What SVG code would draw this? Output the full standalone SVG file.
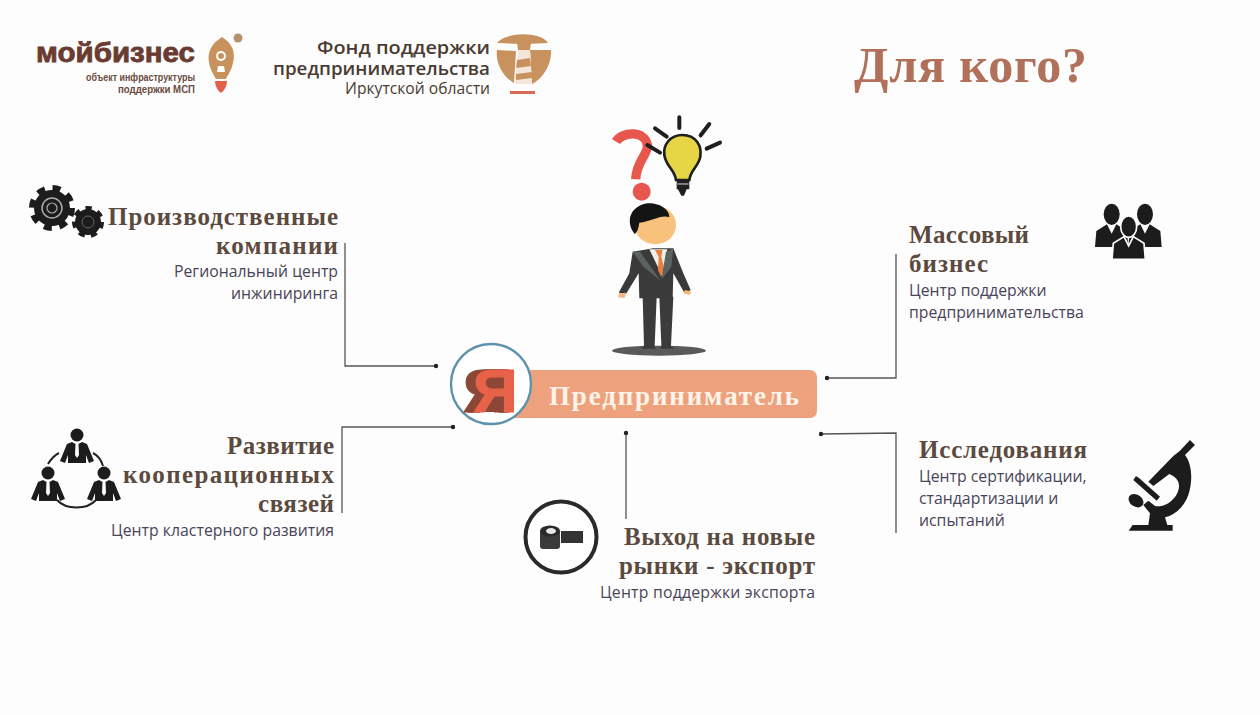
<svg xmlns="http://www.w3.org/2000/svg" width="1260" height="715" viewBox="0 0 1260 715">
<style>
.h{font-family:"Liberation Serif","DejaVu Serif",serif;font-weight:700;font-size:25px;fill:#5c4a3e}
.s{font-family:"Open Sans","Liberation Sans",sans-serif;font-size:15.8px;fill:#4a4458}
.l{fill:none;stroke:#555;stroke-width:1.3}
.d{fill:#222}
.e{text-anchor:end}
.k{fill:#1c1c1c}
.f{font-family:"Open Sans","Liberation Sans",sans-serif;fill:#4a3b32;text-anchor:end}
</style>
<defs>
<g id="person"><circle cx="0" cy="0" r="6.5" class="k"/><path class="k" d="M-5 7L-10 9L-17 26L-12 28L-9 20V28H9V20L12 28L17 26L10 9L5 7L1.5 9L2 20L0 23L-2 20L-1.5 9Z"/></g>
<g id="bust"><ellipse cx="0" cy="0" rx="24" ry="32"/><path d="M-14 30L-46 50L-50 98H50L46 50L14 30L0 58Z"/></g>
</defs>
<rect width="1260" height="715" fill="#fdfdfd"/>

<g id="connectors">
<path class="l" d="M345 243V366H436"/><circle class="d" cx="436" cy="366" r="2.2"/>
<path class="l" d="M896 254V378H827"/><circle class="d" cx="827" cy="378" r="2.2"/>
<path class="l" d="M342 513V427H453"/><circle class="d" cx="453" cy="427" r="2.2"/>
<path class="l" d="M626 433V519"/><circle class="d" cx="626" cy="433" r="2.2"/>
<path class="l" d="M821 434L896 433V533"/><circle class="d" cx="821" cy="434" r="2.2"/>
</g>

<g id="logo-mybusiness">
<text x="36" y="62" font-family="Liberation Sans,sans-serif" font-weight="700" font-size="27" fill="#6a3b30" stroke="#6a3b30" stroke-width=".8" textLength="159" lengthAdjust="spacingAndGlyphs">мойбизнес</text>
<text x="195" y="81" class="e" font-family="Liberation Sans,sans-serif" font-size="11.5" font-weight="700" fill="#6a4a40" textLength="109" lengthAdjust="spacingAndGlyphs">объект инфраструктуры</text>
<text x="195" y="93" class="e" font-family="Liberation Sans,sans-serif" font-size="11.5" font-weight="700" fill="#6a4a40" textLength="77" lengthAdjust="spacingAndGlyphs">поддержки МСП</text>
<path d="M222 37C232 43 236 52 233 63C231 72 227 76 226 79L216 79C214 75 210 70 209 62C207 52 212 43 222 37Z" fill="#c8925f"/>
<circle cx="221" cy="56" r="5" fill="#fff"/><circle cx="221" cy="56" r="3" fill="#c8925f"/>
<path d="M218 66L224 66L225 72L217 72Z" fill="#fff"/>
<path d="M215 81L227 81C227 86 224 91 221 93C218 91 215 86 215 81Z" fill="#e2604a"/>
<circle cx="238" cy="38" r="4.5" fill="#b5926e"/>
</g>

<g id="logo-fund">
<text class="f" x="490" y="54" font-weight="600" font-size="18.5" textLength="173" lengthAdjust="spacingAndGlyphs">Фонд поддержки</text>
<text class="f" x="490" y="75" font-weight="600" font-size="18.5" textLength="217" lengthAdjust="spacingAndGlyphs">предпринимательства</text>
<text class="f" x="490" y="94" font-size="15.5" textLength="145" lengthAdjust="spacingAndGlyphs">Иркутской области</text>
<path d="M497 43C505 32 540 31 548 43L527 44L520 44Z" fill="#c8925f"/>
<path d="M497 50L516 51L514 83C505 78 495 65 497 50Z" fill="#c8925f"/>
<path d="M530 50L551 50C552 65 542 79 532 84Z" fill="#c8925f"/>
<path d="M517 42L524 37L531 42L530 50L518 50Z" fill="#c8925f"/>
<path d="M518 50H530L532 84H515Z" fill="#f4e6d8"/>
<path d="M517 60L530 58L531 66L516 68ZM516 74L532 72L532 78L516 80Z" fill="#c8925f"/>
<rect x="510" y="91" width="25" height="3" fill="#d96a55"/>
</g>

<text id="title" x="854" y="82" font-family="Liberation Serif,serif" font-weight="700" font-size="50" fill="#b0705a" textLength="233">Для кого?</text>

<g id="man" transform="translate(590 110) scale(.3333)">
<ellipse cx="207" cy="722" rx="141" ry="15" fill="#5a5a58"/>
<path d="M158 560H200L194 708L196 716H155L162 706Z" fill="#3b3b3b"/>
<path d="M208 560H250L243 708L255 716H212L214 706Z" fill="#3b3b3b"/>
<path d="M128 425L190 415H225L250 415L280 490L302 540L284 550L250 490L248 565H148L146 490L108 552L86 548L118 490Z" fill="#3a3a3a"/>
<path d="M88 550L108 548L104 564L84 562ZM285 540L305 545L298 555L280 550Z" fill="#f3b77a"/>
<path d="M178 418H232L218 500Z" fill="#f1efe9"/>
<path d="M195 420H217L214 440L224 480L213 500L204 480L206 440Z" fill="#e8813e"/>
<path d="M128 425L150 425L212 512L160 470Z M250 415L228 425L214 510L244 470Z" fill="#5b6262"/>
<ellipse cx="196" cy="345" rx="62" ry="58" fill="#f8c27c"/>
<path d="M134 372C108 340 115 290 172 280C210 278 240 300 238 322C215 312 185 335 148 338C146 350 144 364 134 372Z" fill="#141414"/>
<path d="M78 95C95 65 165 60 172 105C175 135 140 150 137 208" fill="none" stroke="#e8574e" stroke-width="28"/>
<circle cx="155" cy="245" r="27" fill="#e8574e"/>
<path d="M277 75C318 75 336 108 331 140C326 170 302 178 298 210H258C254 178 228 170 223 135C219 105 240 75 277 75Z" fill="#e6d545" stroke="#1f1f1f" stroke-width="8"/>
<path d="M260 210H298V238H290L282 257H274L264 238H260Z" fill="#1f1f1f"/>
<path d="M262 222H296" stroke="#ddd" stroke-width="3"/>
<path d="M268 22V54M358 42L332 76M390 98L350 116M195 55L230 80M172 105L210 128" stroke="#1f1f1f" stroke-width="12" stroke-linecap="round" fill="none"/>
</g>

<g id="center">
<rect x="490" y="370" width="327" height="48" rx="7" fill="#eda27d"/>
<circle cx="491" cy="384" r="40" fill="#fff" stroke="#5f93ad" stroke-width="2.4"/>
<rect x="484" y="376" width="26" height="36" fill="#8c4736"/>
<text x="473" y="412" font-family="Liberation Sans,sans-serif" font-weight="700" font-size="62" fill="#e8624a" stroke="#e8624a" stroke-width="1.2" style="filter:drop-shadow(-5px 0 0 #8c4736) drop-shadow(-5px 0 0 #8c4736)">Я</text>
<text x="549" y="405" font-family="Liberation Serif,serif" font-weight="700" font-size="27" fill="#fdf3e8" textLength="250">Предприниматель</text>
</g>

<g id="node-production">
<g transform="translate(52 208)"><circle r="20" fill="none" stroke="#1c1c1c" stroke-width="6" stroke-dasharray="8 7.7"/><circle r="18" class="k"/><circle r="10" fill="none" stroke="#aaa" stroke-width="1.5"/><circle r="5" fill="none" stroke="#aaa" stroke-width="1.2"/></g>
<g transform="translate(88 222)"><circle r="14" fill="none" stroke="#1c1c1c" stroke-width="4" stroke-dasharray="6.3 6.3"/><circle r="13" class="k"/><circle r="6" fill="none" stroke="#666" stroke-width="1"/></g>
<text class="h e" x="338" y="225" textLength="230">Производственные</text>
<text class="h e" x="338" y="254" textLength="122">компании</text>
<text class="s e" x="338" y="276.500">Региональный центр</text>
<text class="s e" x="338" y="298.500">инжиниринга</text>
</g>

<g id="node-mass">
<text class="h" x="909" y="243" textLength="120">Массовый</text>
<text class="h" x="909" y="272" textLength="79">бизнес</text>
<text class="s" x="909" y="295.500">Центр поддержки</text>
<text class="s" x="909" y="317.500">предпринимательства</text>
<g transform="translate(1080 190) scale(.3333)"><use href="#bust" x="95" y="73" class="k"/><use href="#bust" x="195" y="73" class="k"/><use href="#bust" x="146" y="110" class="k" stroke="#fdfdfd" stroke-width="5"/></g>
</g>

<g id="node-coop">
<use href="#person" x="77" y="435"/>
<use href="#person" x="48" y="473"/>
<use href="#person" x="104" y="473"/>
<path d="M48 464C51 459 55 455 59 453M93 453C97 455 101 459 103 466M57 500C66 510 87 510 96 500" fill="none" stroke="#222" stroke-width="2"/>
<text class="h e" x="334" y="454" textLength="107">Развитие</text>
<text class="h e" x="334" y="483" textLength="211">кооперационных</text>
<text class="h e" x="334" y="512" textLength="76">связей</text>
<text class="s e" x="334" y="535.500" textLength="223">Центр кластерного развития</text>
</g>

<g id="node-export">
<circle cx="561" cy="537" r="35.500" fill="#fff" stroke="#2a2a2a" stroke-width="4"/>
<rect x="540" y="530" width="20" height="19" rx="3" fill="#3a3a3a"/>
<ellipse cx="550" cy="531" rx="10" ry="5.500" fill="#2a2a2a"/><ellipse cx="551" cy="531" rx="5" ry="3" fill="#e8e8e8"/>
<rect x="561" y="531" width="22" height="12" fill="#333"/>
<text class="h e" x="815" y="545" textLength="191">Выход на новые</text>
<text class="h e" x="815" y="574" textLength="196">рынки - экспорт</text>
<text class="s e" x="815" y="597.500" textLength="215">Центр поддержки экспорта</text>
</g>

<g id="node-research">
<text class="h" x="919" y="458" textLength="168">Исследования</text>
<text class="s" x="919" y="481.500">Центр сертификации,</text>
<text class="s" x="919" y="503.500">стандартизации и</text>
<text class="s" x="919" y="525.500">испытаний</text>
<g transform="translate(1110 430) scale(.3333)" class="k">
<path d="M240 30L255 45L225 75C245 100 250 150 235 195C220 235 190 258 165 262L172 285H188V302H56L68 285H115L120 250L100 225L115 212L135 228C165 235 205 205 207 170C208 150 195 140 178 132L130 168L115 155L190 78L210 62Z"/>
<path d="M78 138L88 145L150 200L140 212L70 150Z"/>
<ellipse cx="78" cy="212" rx="24" ry="18" transform="rotate(35 78 212)"/>
</g>
</g>
</svg>
